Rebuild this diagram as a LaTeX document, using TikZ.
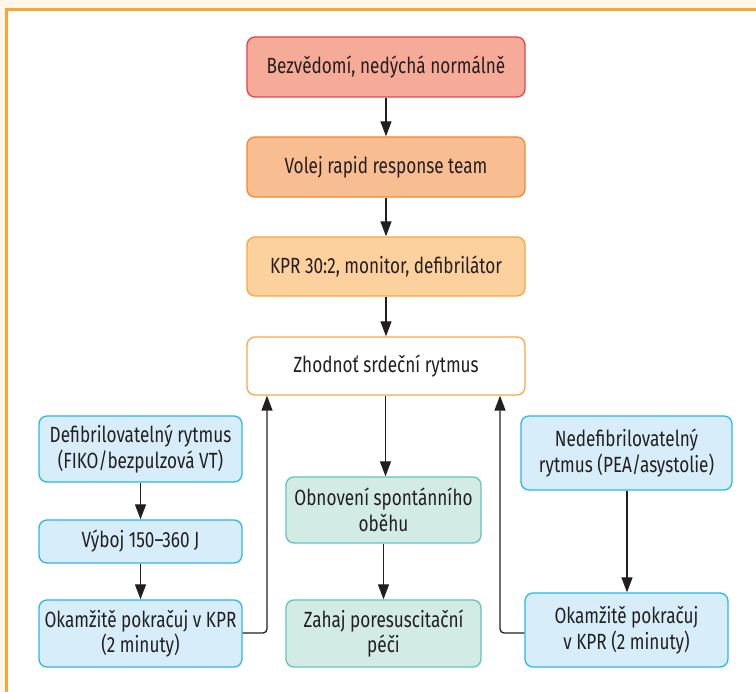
\documentclass[tikz,border=0pt]{standalone}
\usepackage{fontspec}
\setmainfont[FakeStretch=0.78]{Fira Sans}
\usetikzlibrary{arrows.meta}
\definecolor{txt}{HTML}{231F20}
\definecolor{cream}{HTML}{FFF8EA}
\definecolor{frame}{HTML}{F9A637}
\definecolor{redfill}{HTML}{F6AA98}
\definecolor{redline}{HTML}{E8434C}
\definecolor{orfill}{HTML}{F9BD92}
\definecolor{orline}{HTML}{F08A33}
\definecolor{yelfill}{HTML}{FDD19E}
\definecolor{yelline}{HTML}{F6A83C}
\definecolor{zline}{HTML}{F7A84A}
\definecolor{grfill}{HTML}{D3EBE5}
\definecolor{grline}{HTML}{62C5B6}
\definecolor{blfill}{HTML}{D7EEFA}
\definecolor{blline}{HTML}{2DB6EA}
\tikzset{
  box/.style={draw, line width=1.3pt, rounded corners=8pt, align=center,
    text=txt, font=\fontsize{22}{25.5}\selectfont, inner sep=2pt},
  redbox/.style={box, fill=redfill, draw=redline},
  orbox/.style={box, fill=orfill, draw=orline},
  yelbox/.style={box, fill=yelfill, draw=yelline},
  zbox/.style={box, fill=white, draw=zline},
  grbox/.style={box, fill=grfill, draw=grline},
  blbox/.style={box, fill=blfill, draw=blline},
  arr/.style={draw=txt, line width=1.3pt, -{Triangle[width=11pt,length=15pt]}},
}
\begin{document}
\begin{tikzpicture}[x=1pt,y=-1pt]
\fill[cream] (0,0) rectangle (756,692);
\useasboundingbox (0,0) rectangle (756,692);
\draw[frame, line width=2.5pt, fill=white] (6.5,9.5) rectangle (770,710);

\node[redbox, minimum width=278pt, minimum height=60pt] (a) at (386,67) {Bezvědomí, nedýchá normálně};
\node[orbox, minimum width=278pt, minimum height=60pt] (b) at (386,167) {Volej rapid response team};
\node[yelbox, minimum width=278pt, minimum height=59pt] (c) at (386,266.5) {KPR 30:2, monitor, defibrilátor};
\node[zbox, minimum width=278pt, minimum height=58pt] (z) at (386,366) {Zhodnoť srdeční rytmus};

\node[grbox, minimum width=195pt, minimum height=66pt] (g1) at (383.5,510) {Obnovení spontánního\\oběhu};
\node[grbox, minimum width=195pt, minimum height=67pt] (g2) at (383.5,633.5) {Zahaj poresuscitační\\péči};

\node[blbox, minimum width=203pt, minimum height=66pt] (l1) at (140.5,449) {Defibrilovatelný rytmus\\(FIKO/bezpulzová VT)};
\node[blbox, minimum width=203pt, minimum height=43pt] (l2) at (140.5,541.5) {Výboj 150–360 J};
\node[blbox, minimum width=203pt, minimum height=67pt] (l3) at (140.5,633.5) {Okamžitě pokračuj v KPR\\(2 minuty)};

\node[blbox, minimum width=211pt, minimum height=74pt] (r1) at (626.5,453) {Nedefibrilovatelný\\rytmus (PEA/asystolie)};
\node[blbox, minimum width=203pt, minimum height=74pt] (r2) at (626.5,630) {Okamžitě pokračuj\\v KPR (2 minuty)};

\draw[arr] (a) -- (b);
\draw[arr] (b) -- (c);
\draw[arr] (c) -- (z);
\draw[arr] (z.south -| 385.5,0) -- (g1.north -| 385.5,0);
\draw[arr] (g1) -- (g2);
\draw[arr] (l1) -- (l2);
\draw[arr] (l2) -- (l3);
\draw[arr] (r1.south -| 627,0) -- (r2.north -| 627,0);

\coordinate (lc) at (267,633);
\coordinate (rc) at (500,633);
\draw[arr, rounded corners=4pt] (l3.east |- lc) -- (lc) -- (lc |- z.south);
\draw[arr, rounded corners=4pt] (r2.west |- rc) -- (rc) -- (rc |- z.south);
\end{tikzpicture}
\end{document}
